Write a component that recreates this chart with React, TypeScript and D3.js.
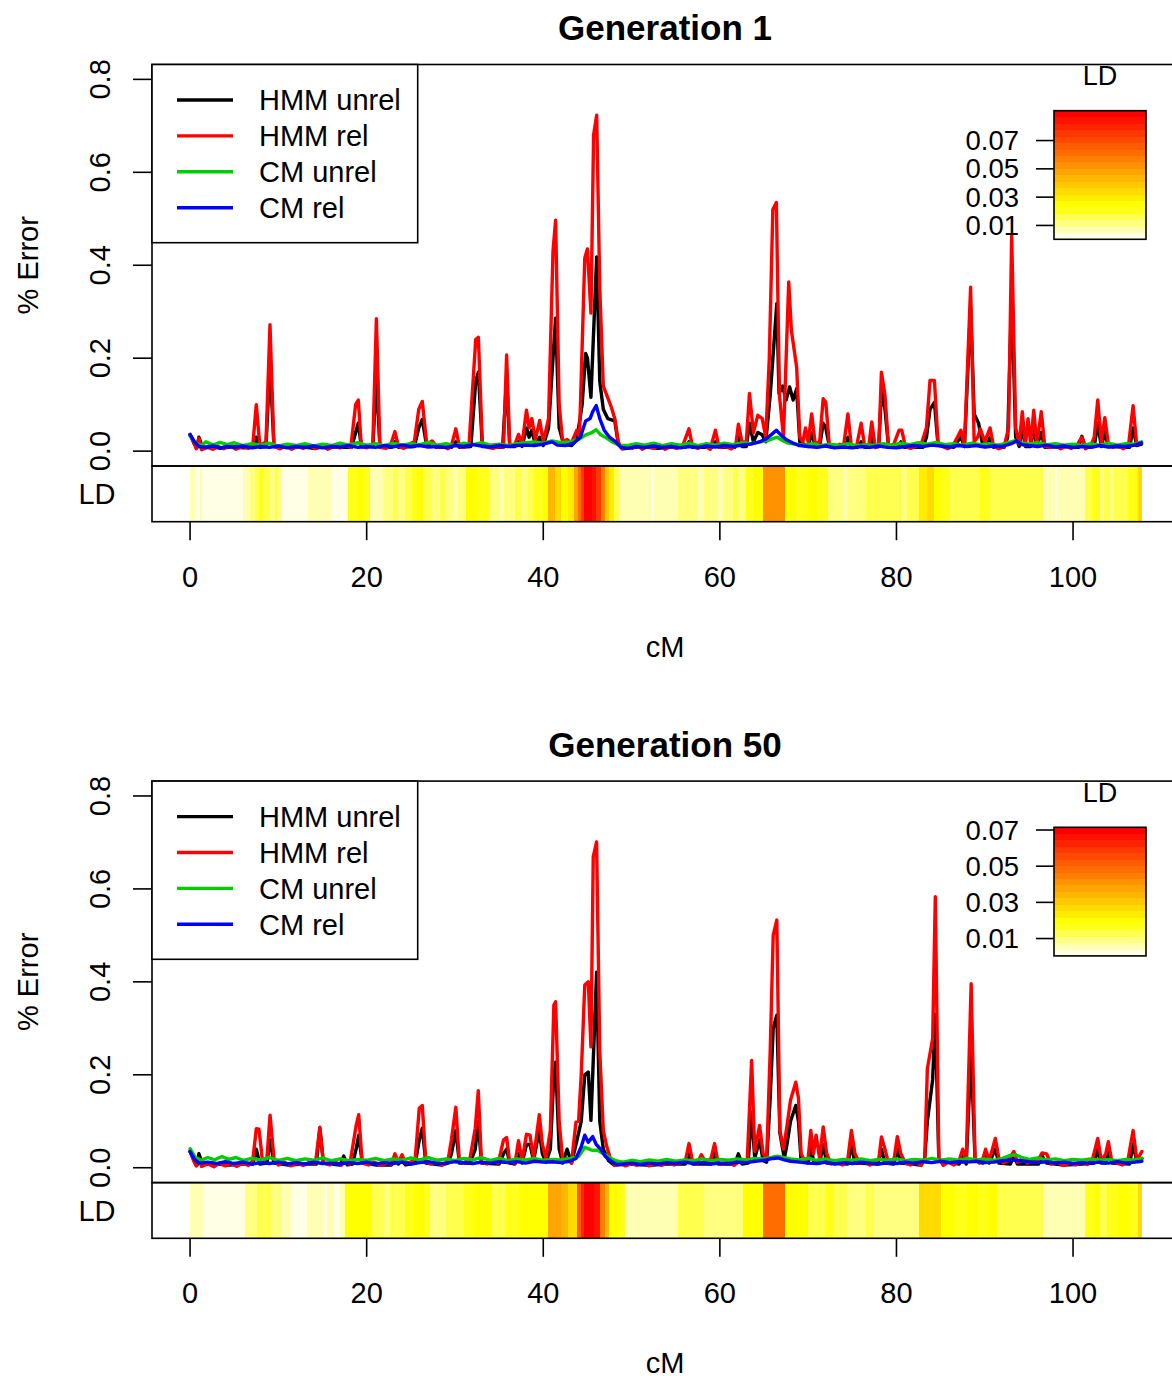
import React from 'react';
import * as d3 from 'd3';

type Pt = [number, number];

// ---- Generation 1 : % error along the chromosome (cM, % error) ----
const hmmUnrelGen1: Pt[] = [
  [0,0.035],[0.5,0.015],[0.8,0.008],[1.0,0.03],[1.4,0.008],[2.5,0.01],[3.5,0.006],[4.8,0.01],[6,0.007],[7.1,0.008],
  [7.5,0.03],[7.9,0.008],[8.6,0.01],[9.05,0.19],[9.5,0.01],[11,0.008],[12.5,0.01],[14,0.006],[15.5,0.01],[17,0.008],
  [18.3,0.008],[18.75,0.04],[19.05,0.06],[19.4,0.01],[20.7,0.01],[21.1,0.16],[21.5,0.008],[22.8,0.008],[23.2,0.02],[23.6,0.008],
  [25.4,0.01],[25.9,0.05],[26.3,0.068],[26.8,0.01],[27.4,0.02],[27.9,0.008],[29.6,0.008],[30.1,0.02],[30.5,0.008],[31.8,0.01],
  [32.35,0.15],[32.65,0.17],[33.1,0.01],[35.4,0.008],[35.85,0.155],[36.2,0.01],[36.8,0.01],[37.2,0.02],[37.6,0.01],[38.1,0.05],
  [38.4,0.03],[38.7,0.045],[39.1,0.015],[39.6,0.03],[40.0,0.012],[40.6,0.05],[41.1,0.2],[41.4,0.286],[41.8,0.05],[42.3,0.015],
  [43.2,0.012],[43.8,0.025],[44.4,0.1],[44.8,0.21],[45.0,0.2],[45.4,0.116],[46.05,0.418],[46.4,0.15],[46.8,0.09],[47.3,0.07],
  [48.1,0.065],[48.5,0.015],[49,0.005],[51,0.01],[53,0.006],[55,0.01],[56.1,0.008],[56.5,0.02],[56.9,0.008],[59.1,0.008],
  [59.5,0.02],[59.9,0.008],[61.7,0.008],[62.1,0.03],[62.5,0.01],[63.0,0.01],[63.35,0.06],[63.8,0.02],[64.3,0.04],[64.8,0.035],
  [65.2,0.02],[65.7,0.12],[66.45,0.318],[66.7,0.124],[67.1,0.14],[67.5,0.11],[67.9,0.138],[68.3,0.11],[68.7,0.134],[69.05,0.02],
  [70.0,0.01],[70.4,0.04],[70.8,0.01],[71.3,0.01],[71.7,0.06],[72.0,0.05],[72.4,0.01],[74.0,0.008],[74.5,0.03],[74.9,0.008],
  [75.6,0.008],[76,0.02],[76.4,0.008],[76.9,0.008],[77.2,0.03],[77.6,0.008],[78.0,0.01],[78.3,0.13],[78.7,0.09],[79.1,0.01],
  [80.1,0.008],[80.5,0.02],[80.9,0.008],[83.0,0.008],[83.4,0.03],[83.8,0.09],[84.3,0.105],[84.7,0.015],[86.5,0.008],[86.9,0.02],
  [87.3,0.03],[87.7,0.01],[88.4,0.31],[88.8,0.08],[89.3,0.06],[89.7,0.02],[90.2,0.01],[90.6,0.03],[91,0.008],[92.2,0.008],
  [92.6,0.03],[93.05,0.34],[93.5,0.03],[93.9,0.01],[94.25,0.05],[94.6,0.01],[95.2,0.01],[95.55,0.05],[95.9,0.01],[96.4,0.04],
  [96.8,0.008],[99,0.01],[100.6,0.008],[101,0.032],[101.4,0.008],[102.4,0.01],[102.8,0.06],[103.2,0.01],[103.6,0.04],[104.0,0.01],
  [106.4,0.008],[106.8,0.05],[107.2,0.012],[107.75,0.015],
];

const hmmRelGen1: Pt[] = [
  [0,0.035],[0.4,0.02],[0.7,0.005],[1.0,0.028],[1.3,0.003],[2,0.008],[2.6,0.004],[3.2,0.01],[3.8,0.005],[4.5,0.012],
  [5.2,0.004],[6,0.01],[6.6,0.006],[7.1,0.012],[7.5,0.1],[7.9,0.012],[8.6,0.02],[9.05,0.272],[9.5,0.01],[10.2,0.005],
  [10.8,0.012],[11.5,0.004],[12.2,0.01],[12.8,0.006],[13.5,0.012],[14.2,0.005],[14.9,0.011],[15.6,0.004],[16.3,0.01],[17,0.007],
  [17.6,0.012],[18.2,0.008],[18.75,0.1],[19.05,0.11],[19.4,0.01],[20,0.007],[20.7,0.015],[21.1,0.285],[21.5,0.008],[22.2,0.006],
  [22.7,0.012],[23.2,0.042],[23.6,0.01],[24.2,0.006],[24.8,0.015],[25.4,0.02],[25.9,0.09],[26.3,0.107],[26.8,0.015],[27.4,0.022],
  [28,0.008],[28.6,0.01],[29.2,0.005],[29.6,0.012],[30.1,0.048],[30.5,0.01],[31,0.008],[31.6,0.015],[32.35,0.24],[32.65,0.245],
  [33.1,0.015],[33.7,0.008],[34.3,0.006],[35,0.01],[35.5,0.008],[35.85,0.207],[36.2,0.012],[36.8,0.015],[37.2,0.036],[37.6,0.015],
  [38.1,0.088],[38.4,0.05],[38.7,0.07],[39.1,0.025],[39.6,0.066],[40,0.02],[40.6,0.07],[41.1,0.43],[41.4,0.497],[41.8,0.1],
  [42.2,0.02],[42.7,0.025],[43.2,0.018],[43.8,0.045],[44.1,0.03],[44.7,0.415],[45.0,0.435],[45.4,0.297],[45.7,0.68],[46.05,0.723],
  [46.4,0.35],[46.8,0.14],[47.3,0.115],[47.7,0.095],[48.1,0.07],[48.5,0.02],[48.9,0.005],[49.5,0.01],[50.1,0.006],[50.7,0.012],
  [51.2,0.004],[51.8,0.01],[52.5,0.006],[53.1,0.013],[53.8,0.004],[54.4,0.01],[55.1,0.006],[55.8,0.012],[56.5,0.048],[56.9,0.01],
  [57.5,0.006],[58.2,0.012],[58.9,0.004],[59.5,0.045],[59.9,0.008],[60.6,0.01],[61.3,0.005],[61.8,0.012],[62.1,0.058],[62.5,0.02],
  [63.0,0.02],[63.35,0.124],[63.8,0.04],[64.3,0.077],[64.8,0.07],[65.2,0.03],[65.6,0.2],[66.0,0.52],[66.4,0.535],[66.75,0.12],
  [67.2,0.03],[67.8,0.364],[68.1,0.26],[68.7,0.18],[69.05,0.03],[69.4,0.02],[69.7,0.05],[70.0,0.02],[70.4,0.08],[70.8,0.015],
  [71.3,0.02],[71.7,0.113],[72.0,0.105],[72.4,0.012],[73.0,0.008],[73.6,0.015],[74.0,0.01],[74.5,0.08],[74.9,0.008],[75.5,0.012],
  [76,0.06],[76.4,0.01],[76.9,0.015],[77.2,0.063],[77.6,0.008],[78.0,0.012],[78.3,0.17],[78.7,0.12],[79.1,0.01],[79.7,0.015],
  [80.3,0.045],[80.6,0.045],[81,0.01],[81.6,0.006],[82.2,0.01],[82.8,0.015],[83.4,0.05],[83.8,0.152],[84.3,0.152],[84.7,0.02],
  [85.2,0.01],[85.8,0.005],[86.4,0.012],[86.9,0.03],[87.3,0.045],[87.7,0.01],[88.4,0.353],[88.8,0.02],[89.2,0.03],[89.5,0.048],
  [90,0.02],[90.6,0.05],[91,0.01],[91.6,0.005],[92.2,0.01],[92.7,0.05],[93.05,0.465],[93.5,0.05],[93.9,0.015],[94.25,0.085],
  [94.6,0.012],[94.9,0.07],[95.2,0.015],[95.55,0.088],[95.9,0.015],[96.4,0.085],[96.8,0.01],[97.4,0.008],[98,0.012],[98.6,0.005],
  [99.2,0.01],[99.8,0.006],[100.4,0.012],[101,0.03],[101.4,0.005],[102,0.012],[102.4,0.03],[102.8,0.11],[103.2,0.02],[103.6,0.072],
  [104,0.015],[104.5,0.008],[105.1,0.012],[105.7,0.005],[106.3,0.015],[106.8,0.098],[107.2,0.015],[107.75,0.018],
];

const cmUnrelGen1: Pt[] = [
  [0,0.032],[0.6,0.018],[1.2,0.012],[1.8,0.02],[2.6,0.013],[3.4,0.019],[4.2,0.014],[5,0.018],[6,0.012],[7,0.016],
  [8,0.013],[9,0.017],[10,0.011],[11,0.015],[12,0.012],[13,0.016],[14,0.011],[15,0.015],[16,0.012],[17,0.017],
  [18,0.013],[19,0.018],[20,0.013],[21,0.016],[22,0.012],[23,0.017],[24,0.013],[25,0.016],[26,0.014],[27,0.019],
  [28,0.013],[29,0.016],[30,0.012],[31,0.017],[32,0.014],[33,0.018],[34,0.013],[35,0.015],[36,0.012],[37,0.016],
  [38,0.018],[39,0.02],[40,0.017],[41,0.022],[42,0.018],[43,0.02],[44,0.025],[44.8,0.035],[45.5,0.04],[46,0.046],
  [46.5,0.035],[47,0.03],[47.8,0.02],[48.6,0.013],[49.5,0.012],[50.5,0.016],[51.5,0.013],[52.5,0.017],[53.5,0.012],[54.5,0.016],
  [55.5,0.013],[56.5,0.017],[57.5,0.012],[58.5,0.016],[59.5,0.013],[60.5,0.017],[61.5,0.014],[62.5,0.018],[63.5,0.016],[64.5,0.02],
  [65.3,0.022],[66,0.027],[66.5,0.03],[67,0.024],[67.6,0.018],[68.5,0.015],[69.5,0.013],[70.5,0.016],[71.5,0.012],[72.5,0.015],
  [73.5,0.012],[74.5,0.016],[75.5,0.012],[76.5,0.014],[77.5,0.012],[78.5,0.016],[79.5,0.013],[80.5,0.017],[81.5,0.014],[82.5,0.018],
  [83.5,0.015],[84.5,0.019],[85.5,0.014],[86.5,0.016],[87.5,0.013],[88.5,0.017],[89.5,0.014],[90.5,0.016],[91.5,0.013],[92.5,0.017],
  [93.3,0.022],[94,0.018],[95,0.015],[96,0.018],[97,0.014],[98,0.016],[99,0.013],[100,0.015],[101,0.012],[102,0.016],
  [103,0.013],[104,0.017],[105,0.013],[106,0.016],[107,0.015],[107.75,0.02],
];

const cmRelGen1: Pt[] = [
  [0,0.036],[0.5,0.02],[1,0.01],[1.8,0.008],[2.6,0.011],[3.4,0.007],[4.2,0.01],[5,0.008],[6,0.011],[7,0.007],
  [8,0.01],[9,0.008],[10,0.011],[11,0.007],[12,0.01],[13,0.008],[14,0.011],[15,0.007],[16,0.01],[17,0.009],
  [18,0.012],[19,0.008],[20,0.01],[21,0.008],[22,0.012],[23,0.009],[24,0.013],[25,0.01],[26,0.012],[27,0.009],
  [28,0.01],[29,0.008],[30,0.012],[31,0.01],[32,0.014],[33,0.011],[34,0.009],[35,0.012],[36,0.01],[37,0.012],
  [38,0.013],[39,0.012],[40,0.015],[41,0.02],[41.6,0.013],[42.5,0.012],[43.5,0.018],[44.2,0.03],[44.8,0.065],[45.3,0.07],
  [45.6,0.085],[46,0.098],[46.4,0.07],[46.9,0.045],[47.5,0.03],[48.2,0.02],[48.8,0.008],[49.6,0.006],[50.5,0.01],[51.5,0.008],
  [52.5,0.011],[53.5,0.008],[54.5,0.01],[55.5,0.007],[56.5,0.01],[57.5,0.008],[58.5,0.011],[59.5,0.009],[60.5,0.012],[61.5,0.01],
  [62.5,0.013],[63.5,0.015],[64.5,0.02],[65.2,0.026],[65.8,0.035],[66.4,0.045],[66.9,0.035],[67.5,0.025],[68.2,0.018],[69,0.012],
  [70,0.01],[71,0.008],[72,0.011],[73,0.007],[74,0.009],[75,0.007],[76,0.01],[77,0.008],[78,0.011],[79,0.008],
  [80,0.007],[81,0.01],[82,0.012],[83,0.01],[84,0.013],[85,0.011],[86,0.009],[87,0.012],[88,0.01],[89,0.012],
  [90,0.009],[91,0.011],[92,0.01],[93,0.016],[93.6,0.022],[94.2,0.014],[95,0.012],[96,0.01],[97,0.013],[98,0.009],
  [99,0.011],[100,0.008],[101,0.01],[102,0.008],[103,0.012],[104,0.009],[105,0.011],[106,0.01],[107,0.013],[107.75,0.018],
];

// LD per marker interval: [start cM, LD]; each interval runs to the next start
const ldGen1: Pt[] = [
  [0,0.007],[0.6,0.0002],[1.1,0.007],[1.3,0.0002],[6.0,0.007],[6.8,0.011],[7.3,0.016],[7.9,0.02],[8.3,0.016],[9.0,0.011],
  [9.6,0.016],[10.0,0.011],[10.4,0.002],[13.4,0.007],[16.0,0.002],[17.9,0.02],[18.9,0.025],[19.6,0.02],[20.4,0.007],[21.9,0.011],
  [23.0,0.016],[23.5,0.011],[24.3,0.016],[25.1,0.02],[25.7,0.025],[26.4,0.016],[27.3,0.011],[28.3,0.016],[29.0,0.011],[29.8,0.007],
  [30.4,0.011],[31.3,0.025],[32.6,0.02],[33.85,0.011],[35.0,0.007],[35.6,0.011],[36.8,0.016],[37.6,0.011],[38.3,0.016],[39.0,0.02],
  [40.0,0.025],[40.5,0.043],[41.3,0.034],[42.0,0.025],[42.8,0.03],[43.5,0.048],[43.9,0.061],[44.3,0.075],[44.6,0.0911],[45.5,0.084],
  [46.0,0.075],[46.5,0.057],[47.0,0.039],[47.5,0.03],[48.0,0.016],[48.6,0.007],[52.2,0.002],[52.5,0.007],[55.25,0.011],[57.5,0.007],
  [58.2,0.011],[59.8,0.007],[60.3,0.011],[61.5,0.016],[62.0,0.011],[63.0,0.02],[63.8,0.025],[64.85,0.052],[67.4,0.025],[68.5,0.02],
  [70.0,0.025],[71.0,0.02],[72.2,0.011],[74.0,0.007],[74.4,0.011],[76.6,0.016],[78.9,0.016],[80.5,0.011],[81.2,0.016],[82.55,0.03],
  [83.5,0.034],[84.3,0.025],[85.1,0.02],[86.0,0.016],[89.5,0.02],[90.5,0.016],[96.6,0.007],[98.0,0.002],[98.2,0.007],[101.4,0.016],
  [102.2,0.02],[103.0,0.011],[103.5,0.016],[104.2,0.011],[104.6,0.016],[106.2,0.02],[107.0,0.025],[107.3,0.034],
];

// ---- Generation 50 ----
const hmmUnrelGen50: Pt[] = [
  [0,0.035],[0.5,0.015],[0.8,0.006],[1.0,0.03],[1.4,0.008],[3,0.008],[4.5,0.006],[6,0.008],[7.1,0.008],[7.5,0.04],
  [7.9,0.008],[8.7,0.01],[9.06,0.06],[9.5,0.01],[11,0.006],[13,0.008],[14.3,0.008],[14.7,0.085],[15.1,0.01],[17.0,0.006],
  [17.4,0.025],[17.8,0.006],[18.4,0.008],[18.8,0.04],[19.1,0.07],[19.5,0.01],[21,0.006],[22.8,0.006],[23.2,0.02],[23.6,0.008],
  [24,0.015],[24.4,0.006],[25.5,0.01],[25.96,0.06],[26.3,0.085],[26.7,0.01],[28.5,0.006],[29.2,0.01],[29.6,0.03],[30.1,0.08],
  [30.5,0.01],[31.7,0.01],[32.3,0.04],[32.64,0.1],[33,0.01],[35.0,0.008],[35.5,0.03],[35.85,0.04],[36.2,0.01],[36.8,0.008],
  [37.2,0.03],[37.6,0.01],[38.1,0.05],[38.5,0.05],[38.9,0.015],[39.55,0.08],[39.9,0.03],[40.3,0.012],[40.8,0.04],[41.2,0.2],
  [41.4,0.227],[41.8,0.04],[42.2,0.01],[42.7,0.04],[43.2,0.01],[43.7,0.05],[44.3,0.1],[44.7,0.2],[45.1,0.206],[45.4,0.102],
  [45.8,0.3],[46.04,0.421],[46.4,0.1],[46.8,0.04],[47.4,0.015],[48,0.006],[50,0.008],[52,0.005],[54,0.008],[56.1,0.008],
  [56.5,0.03],[56.9,0.008],[59.0,0.008],[59.4,0.03],[59.8,0.008],[61.7,0.008],[62.1,0.03],[62.5,0.008],[63.2,0.01],[63.6,0.12],
  [63.95,0.02],[64.5,0.06],[64.9,0.015],[65.3,0.012],[65.7,0.15],[66.04,0.3],[66.45,0.328],[66.8,0.075],[67.3,0.02],[67.6,0.05],
  [68,0.1],[68.6,0.134],[68.9,0.1],[69.2,0.015],[70.0,0.01],[70.3,0.05],[70.6,0.015],[71.3,0.01],[71.7,0.05],[72.1,0.01],
  [74.5,0.008],[74.9,0.05],[75.3,0.01],[77.9,0.008],[78.3,0.04],[78.7,0.01],[79.7,0.008],[80.1,0.04],[80.5,0.01],[82.8,0.006],
  [83.2,0.02],[83.5,0.1],[84.1,0.19],[84.4,0.33],[84.8,0.015],[87.1,0.008],[87.5,0.025],[87.9,0.008],[88.46,0.25],[88.9,0.015],
  [89.8,0.01],[90.1,0.03],[90.5,0.01],[91.2,0.04],[91.6,0.01],[92.9,0.008],[93.3,0.025],[93.7,0.008],[96.1,0.008],[96.5,0.025],
  [97,0.01],[99,0.006],[101,0.008],[102.4,0.01],[102.8,0.04],[103.2,0.01],[103.7,0.01],[104,0.035],[104.4,0.01],[106.4,0.008],
  [106.8,0.05],[107.2,0.015],[107.8,0.02],
];

const hmmRelGen50: Pt[] = [
  [0,0.035],[0.4,0.015],[0.7,0.004],[1.0,0.02],[1.3,0.003],[2,0.008],[2.7,0.002],[3.3,0.01],[4,0.004],[4.6,0.009],
  [5.3,0.003],[6,0.01],[6.6,0.005],[7.1,0.015],[7.5,0.084],[7.8,0.083],[8.2,0.015],[8.7,0.02],[9.06,0.113],[9.5,0.02],
  [10,0.006],[10.7,0.012],[11.4,0.004],[12.1,0.01],[12.8,0.005],[13.5,0.011],[14.2,0.01],[14.7,0.087],[15.1,0.01],[15.8,0.006],
  [16.5,0.012],[17.1,0.005],[17.5,0.015],[18.1,0.008],[18.8,0.09],[19.1,0.114],[19.5,0.01],[20.2,0.006],[20.9,0.012],[21.6,0.005],
  [22.3,0.01],[22.8,0.008],[23.2,0.03],[23.6,0.012],[24,0.028],[24.4,0.01],[25,0.012],[25.5,0.02],[25.96,0.128],[26.3,0.134],
  [26.7,0.012],[27.3,0.008],[27.9,0.013],[28.5,0.005],[29.2,0.015],[29.6,0.06],[30.1,0.13],[30.5,0.012],[31,0.01],[31.7,0.02],
  [32.3,0.085],[32.64,0.166],[33,0.012],[33.6,0.008],[34.2,0.013],[34.9,0.01],[35.5,0.06],[35.85,0.065],[36.2,0.012],[36.8,0.01],
  [37.2,0.058],[37.6,0.015],[38.1,0.072],[38.5,0.07],[38.9,0.02],[39.55,0.114],[39.9,0.05],[40.3,0.02],[40.8,0.08],[41.2,0.35],
  [41.4,0.357],[41.8,0.1],[42.2,0.015],[42.7,0.02],[43.2,0.01],[43.7,0.098],[44,0.1],[44.3,0.2],[44.7,0.393],[45.1,0.4],
  [45.4,0.26],[45.66,0.669],[46.04,0.701],[46.4,0.25],[46.8,0.08],[47.2,0.045],[47.6,0.02],[48.1,0.005],[48.7,0.01],[49.3,0.004],
  [50,0.009],[50.6,0.005],[51.3,0.011],[52,0.004],[52.7,0.01],[53.4,0.005],[54.1,0.012],[54.8,0.006],[55.5,0.01],[56.1,0.015],
  [56.5,0.052],[56.9,0.015],[57.4,0.008],[57.9,0.028],[58.4,0.012],[59,0.02],[59.4,0.052],[59.8,0.01],[60.4,0.008],[61,0.013],
  [61.6,0.005],[62.1,0.012],[62.6,0.015],[63.1,0.015],[63.6,0.231],[63.95,0.035],[64.5,0.091],[64.9,0.03],[65.3,0.02],[65.7,0.25],
  [66.04,0.5],[66.45,0.533],[66.8,0.08],[67.2,0.04],[67.6,0.09],[68.0,0.145],[68.6,0.184],[68.9,0.15],[69.2,0.03],[69.6,0.015],
  [70,0.02],[70.3,0.08],[70.6,0.03],[70.9,0.07],[71.3,0.02],[71.7,0.088],[72.1,0.03],[72.6,0.008],[73.2,0.012],[73.9,0.006],
  [74.5,0.02],[74.9,0.08],[75.3,0.03],[75.8,0.01],[76.5,0.012],[77,0.006],[77.6,0.012],[78,0.018],[78.3,0.066],[78.7,0.04],
  [79.1,0.01],[79.7,0.015],[80.1,0.067],[80.5,0.03],[81,0.01],[81.6,0.006],[82.2,0.012],[82.8,0.005],[83.2,0.02],[83.5,0.213],
  [84.1,0.278],[84.4,0.583],[84.8,0.02],[85.3,0.005],[85.9,0.012],[86.5,0.006],[87.1,0.015],[87.5,0.04],[87.9,0.015],[88.46,0.396],
  [88.9,0.02],[89.4,0.01],[89.8,0.02],[90.1,0.04],[90.5,0.015],[91.2,0.063],[91.6,0.02],[92.1,0.01],[92.6,0.015],[93.3,0.035],
  [93.7,0.012],[94.3,0.02],[94.8,0.01],[95.4,0.013],[96,0.015],[96.5,0.032],[97,0.03],[97.5,0.008],[98.2,0.012],[98.9,0.005],
  [99.6,0.01],[100.3,0.006],[101,0.012],[101.6,0.007],[102.2,0.018],[102.8,0.063],[103.2,0.015],[103.7,0.03],[104,0.056],[104.4,0.012],
  [105,0.01],[105.6,0.006],[106.2,0.015],[106.8,0.08],[107.2,0.02],[107.5,0.025],[107.8,0.035],
];

const cmUnrelGen50: Pt[] = [
  [0,0.041],[0.6,0.022],[1.2,0.016],[2,0.022],[2.8,0.017],[3.6,0.024],[4.4,0.018],[5.2,0.022],[6,0.016],[7,0.02],
  [8,0.017],[9,0.022],[10,0.016],[11,0.02],[12,0.015],[13,0.019],[14,0.016],[15,0.021],[16,0.015],[17,0.019],
  [18,0.015],[19,0.018],[20,0.016],[21,0.02],[22,0.015],[23,0.019],[24,0.016],[25,0.021],[26,0.017],[27,0.022],
  [28,0.016],[29,0.019],[30,0.015],[31,0.02],[32,0.017],[33,0.022],[34,0.016],[35,0.02],[36,0.015],[37,0.019],
  [38,0.017],[39,0.02],[40,0.016],[41,0.018],[42,0.017],[43,0.02],[44,0.024],[44.7,0.044],[45.2,0.04],[45.6,0.037],
  [46.1,0.038],[46.8,0.03],[47.5,0.022],[48.2,0.015],[49,0.012],[50,0.016],[51,0.013],[52,0.017],[53,0.014],[54,0.018],
  [55,0.014],[56,0.017],[57,0.015],[58,0.019],[59,0.015],[60,0.018],[61,0.016],[62,0.019],[63,0.017],[64,0.02],
  [65,0.019],[66,0.023],[66.5,0.025],[67.2,0.022],[68,0.019],[69,0.017],[70,0.02],[71,0.016],[72,0.019],[73,0.015],
  [74,0.018],[75,0.016],[76,0.019],[77,0.015],[78,0.018],[79,0.016],[80,0.019],[81,0.015],[82,0.018],[83,0.016],
  [84,0.02],[85,0.016],[86,0.019],[87,0.016],[88,0.02],[89,0.017],[90,0.019],[91,0.016],[92,0.02],[92.8,0.026],
  [93.5,0.028],[94.2,0.022],[95,0.018],[96,0.021],[97,0.017],[98,0.019],[99,0.015],[100,0.018],[101,0.016],[102,0.019],
  [103,0.016],[104,0.018],[105,0.015],[106,0.018],[107,0.017],[107.8,0.02],
];

const cmRelGen50: Pt[] = [
  [0,0.035],[0.5,0.018],[1,0.01],[2,0.012],[3,0.009],[4,0.013],[5,0.009],[6,0.012],[7,0.008],[8,0.011],
  [9,0.009],[10,0.012],[11,0.008],[12,0.011],[13,0.008],[14,0.012],[15,0.009],[16,0.01],[17,0.008],[18,0.011],
  [19,0.009],[20,0.012],[21,0.008],[22,0.011],[23,0.009],[24,0.012],[25,0.008],[26,0.011],[27,0.013],[28,0.009],
  [29,0.01],[30,0.013],[31,0.011],[32,0.009],[33,0.012],[34,0.01],[35,0.013],[36,0.011],[37,0.013],[38,0.01],
  [39,0.014],[40,0.012],[41,0.013],[42,0.011],[43,0.014],[43.7,0.02],[44.3,0.045],[44.7,0.07],[45.1,0.055],[45.6,0.067],
  [46,0.05],[46.5,0.04],[47,0.025],[47.6,0.015],[48.3,0.007],[49,0.008],[50,0.01],[51,0.007],[52,0.01],[53,0.008],
  [54,0.011],[55,0.009],[56,0.012],[57,0.009],[58,0.011],[59,0.008],[60,0.01],[61,0.009],[62,0.012],[63,0.011],
  [64,0.014],[65,0.016],[66,0.02],[66.6,0.021],[67.3,0.017],[68,0.014],[69,0.012],[70,0.01],[71,0.009],[72,0.012],
  [73,0.008],[74,0.011],[75,0.009],[76,0.012],[77,0.01],[78,0.008],[79,0.011],[80,0.009],[81,0.012],[82,0.01],
  [83,0.013],[84,0.011],[85,0.014],[86,0.011],[87,0.013],[88,0.012],[89,0.014],[90,0.011],[91,0.012],[92,0.015],
  [93,0.017],[94,0.015],[95,0.013],[96,0.011],[97,0.013],[98,0.01],[99,0.012],[100,0.009],[101,0.011],[102,0.01],
  [103,0.012],[104,0.01],[105,0.013],[106,0.01],[107,0.012],[107.8,0.014],
];

const ldGen50: Pt[] = [
  [0,0.0054],[1.5,0.0004],[6.2,0.009],[7.6,0.0125],[9.2,0.009],[10.3,0.0054],[11.4,0.0018],[13.2,0.0054],[15.2,0.0018],[15.5,0.0054],
  [16.3,0.0018],[17.0,0.0054],[17.6,0.0197],[20.6,0.0125],[22.0,0.009],[22.6,0.0125],[24.3,0.016],[25.3,0.0197],[26.5,0.016],[27.2,0.009],
  [29.0,0.0125],[31.0,0.016],[32.2,0.0197],[34.2,0.0125],[35.8,0.016],[37.2,0.0197],[40.5,0.0375],[42.0,0.034],[42.8,0.0268],[43.8,0.0518],
  [44.3,0.0626],[44.6,0.0715],[45.8,0.066],[46.4,0.0447],[47.0,0.034],[47.5,0.0197],[48.6,0.016],[49.3,0.0054],[55.25,0.0125],[58.2,0.009],
  [62.6,0.0197],[64.85,0.0483],[67.4,0.0197],[70.0,0.0125],[72.0,0.016],[72.8,0.0125],[74.4,0.009],[76.5,0.0125],[77.5,0.009],[82.5,0.0268],
  [85.1,0.0197],[86.5,0.016],[88.0,0.0197],[89.2,0.016],[90.2,0.0197],[91.4,0.0125],[96.6,0.0054],[101.4,0.016],[102.5,0.0197],[103.0,0.0125],
  [103.8,0.016],[105.0,0.0197],[106.5,0.016],[107.3,0.0268],
];

const ldEnd = 107.8; // last marker position (cM)

const panelTitles = ['Generation 1', 'Generation 50'];
const seriesNames = ['HMM unrel', 'HMM rel', 'CM unrel', 'CM rel'];
const seriesColors = ['#000000', '#FF0000', '#00CD00', '#0000FF'];
const xTicks = [0, 20, 40, 60, 80, 100];
const yTicks = [0, 0.2, 0.4, 0.6, 0.8];
const ldTicks = [0.01, 0.03, 0.05, 0.07];

const FONT = '"Liberation Sans", Arial, Helvetica, sans-serif';
const FS = 29;
const LW = 3.4;

// heat.colors(20), ordered from low to high value
const heatColors: string[] = (() => {
  const n = 20;
  const j = Math.floor(n / 4);
  const i = n - j;
  const hot: string[] = [];
  for (let k = 0; k < i; k++) {
    const g = Math.round((255 * k) / (i - 1));
    hot.push(d3.rgb(255, g, 0).formatHex());
  }
  const pale: string[] = [];
  for (let k = 0; k < j; k++) {
    const s = 1 - 1 / (2 * j) - (k * (1 - 1 / j)) / (j - 1);
    pale.push(d3.rgb(255, 255, Math.round(255 * (1 - s))).formatHex());
  }
  return [...hot, ...pale].reverse();
})();

interface PanelProps {
  top: number;
  title: string;
  series: Pt[][];
  ld: Pt[];
}

function Panel({ top, title, series, ld }: PanelProps) {
  const plotL = 152;
  const plotR = 1180;
  const plotH = 401.5;
  const stripH = 55.7;
  const xMax = ldEnd;
  const pad = xMax * 0.04;
  const x = d3.scaleLinear().domain([-pad, xMax + pad]).range([plotL, plotR]);
  const y = d3.scaleLinear().domain([-0.032, 0.832]).range([top + plotH, top]);
  const line = d3
    .line<Pt>()
    .x((d) => x(d[0]))
    .y((d) => y(d[1]));

  const stripTop = top + plotH;
  const stripBottom = stripTop + stripH;

  const ldExtent = d3.extent(ld, (d) => d[1]) as [number, number];
  const colorIndex = (v: number) => {
    const t = (v - ldExtent[0]) / (ldExtent[1] - ldExtent[0]);
    return Math.max(0, Math.min(heatColors.length - 1, Math.floor(t * heatColors.length)));
  };

  // colour key
  const keyL = 1054;
  const keyR = 1146;
  const keyTop = top + 46.2;
  const keyBottom = top + 174.8;
  const keyY = d3.scaleLinear().domain(ldExtent).range([keyBottom, keyTop]);
  const bandH = (keyBottom - keyTop) / heatColors.length;

  // legend
  const legL = plotL;
  const legR = 417.7;
  const legBottom = top + 178.2;
  const legRowY = (k: number) => top + 35.5 + k * 35.9;

  return (
    <g>
      <text x={665} y={top - 24.5} textAnchor="middle" fontFamily={FONT} fontWeight="bold" fontSize={35}>
        {title}
      </text>

      {/* LD strip */}
      {ld.map((d, k) => {
        const x0 = x(d[0]);
        const x1 = x(k < ld.length - 1 ? ld[k + 1][0] : ldEnd);
        return (
          <rect
            key={k}
            x={x0}
            y={stripTop}
            width={Math.max(0, x1 - x0) + 0.4}
            height={stripH}
            fill={heatColors[colorIndex(d[1])]}
            shapeRendering="crispEdges"
          />
        );
      })}

      {/* error curves */}
      {series.map((s, k) => (
        <path
          key={k}
          d={line(s) || ''}
          fill="none"
          stroke={seriesColors[k]}
          strokeWidth={LW}
          strokeLinejoin="round"
          strokeLinecap="round"
        />
      ))}

      {/* frames */}
      <rect x={plotL} y={top} width={plotR - plotL} height={plotH} fill="none" stroke="#000" strokeWidth={1.6} />
      <rect x={plotL} y={stripTop} width={plotR - plotL} height={stripH} fill="none" stroke="#000" strokeWidth={1.6} />

      {/* y axis */}
      {yTicks.map((t) => (
        <g key={t}>
          <line x1={plotL - 19} x2={plotL} y1={y(t)} y2={y(t)} stroke="#000" strokeWidth={1.6} />
          <text
            transform={`translate(${109.5},${y(t)}) rotate(-90)`}
            textAnchor="middle"
            fontFamily={FONT}
            fontSize={FS}
          >
            {t.toFixed(1)}
          </text>
        </g>
      ))}
      <text
        transform={`translate(${38},${top + plotH / 2}) rotate(-90)`}
        textAnchor="middle"
        fontFamily={FONT}
        fontSize={FS}
      >
        % Error
      </text>
      <text x={115.5} y={(stripTop + stripBottom) / 2 + 10.4} textAnchor="end" fontFamily={FONT} fontSize={FS}>
        LD
      </text>

      {/* x axis */}
      {xTicks.map((t) => (
        <g key={t}>
          <line x1={x(t)} x2={x(t)} y1={stripBottom} y2={stripBottom + 18.5} stroke="#000" strokeWidth={1.6} />
          <text x={x(t)} y={stripBottom + 65} textAnchor="middle" fontFamily={FONT} fontSize={FS}>
            {t}
          </text>
        </g>
      ))}
      <text x={665} y={top + 592} textAnchor="middle" fontFamily={FONT} fontSize={FS}>
        cM
      </text>

      {/* series legend */}
      <rect x={legL} y={top} width={legR - legL} height={legBottom - top} fill="#fff" stroke="#000" strokeWidth={1.6} />
      {seriesNames.map((name, k) => (
        <g key={name}>
          <line x1={177} x2={233} y1={legRowY(k)} y2={legRowY(k)} stroke={seriesColors[k]} strokeWidth={LW} />
          <text x={259} y={legRowY(k) + 10.4} fontFamily={FONT} fontSize={FS}>
            {name}
          </text>
        </g>
      ))}

      {/* LD colour key */}
      <text x={1100} y={top + 20.5} textAnchor="middle" fontFamily={FONT} fontSize={27}>
        LD
      </text>
      {heatColors.map((c, k) => (
        <rect
          key={k}
          x={keyL}
          y={keyBottom - (k + 1) * bandH}
          width={keyR - keyL}
          height={bandH + 0.3}
          fill={c}
          shapeRendering="crispEdges"
        />
      ))}
      <rect x={keyL} y={keyTop} width={keyR - keyL} height={keyBottom - keyTop} fill="none" stroke="#000" strokeWidth={1.6} />
      {ldTicks.map((t) => (
        <g key={t}>
          <line x1={keyL - 18} x2={keyL} y1={keyY(t)} y2={keyY(t)} stroke="#000" strokeWidth={1.6} />
          <text x={1019} y={keyY(t) + 9.5} textAnchor="end" fontFamily={FONT} fontSize={27.5}>
            {t.toFixed(2)}
          </text>
        </g>
      ))}
    </g>
  );
}

export default function App() {
  return (
    <svg
      width={1172}
      height={1378}
      style={{ position: 'absolute', left: 0, top: 0, background: '#fff' }}
      xmlns="http://www.w3.org/2000/svg"
    >
      <rect width={1172} height={1378} fill="#fff" />
      <Panel
        top={64.5}
        title={panelTitles[0]}
        series={[hmmUnrelGen1, hmmRelGen1, cmUnrelGen1, cmRelGen1]}
        ld={ldGen1}
      />
      <Panel
        top={781.1}
        title={panelTitles[1]}
        series={[hmmUnrelGen50, hmmRelGen50, cmUnrelGen50, cmRelGen50]}
        ld={ldGen50}
      />
    </svg>
  );
}
